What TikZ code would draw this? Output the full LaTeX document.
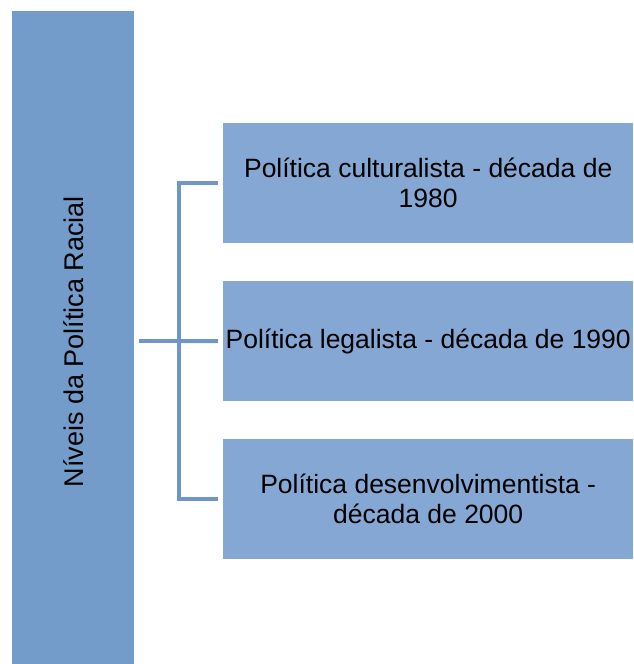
\documentclass[tikz,border=0pt]{standalone}
\usepackage{fontspec}
\setmainfont{Liberation Sans}
\definecolor{barc}{RGB}{115,156,203}
\definecolor{boxc}{RGB}{132,167,211}
\definecolor{linec}{RGB}{112,149,200}
\begin{document}
\begin{tikzpicture}[x=1pt,y=-1pt,
  bar/.style={fill=barc,draw=none,minimum width=122pt,minimum height=653pt,inner sep=0pt},
  lvl/.style={fill=boxc,draw=none,minimum width=410pt,minimum height=120pt,inner sep=0pt,align=center,font=\fontsize{26.5}{30}\selectfont},
  conn/.style={draw=linec,line width=4pt}]
\useasboundingbox (0,0) rectangle (633,664);
\node[bar,anchor=north west] (bar) at (12,11) {};
\node[rotate=90,font=\fontsize{27}{30}\selectfont] (lbl) at ([yshift=-4pt]bar.center) {Níveis da Política Racial};
\node[lvl,anchor=north west] (b1) at (223,123) {Política culturalista - década de\\1980};
\node[lvl,anchor=north west] (b2) at (223,281) {Política legalista - década de 1990};
\node[lvl,anchor=north west] (b3) at (223,439) {Política desenvolvimentista -\\década de 2000};
\coordinate (s) at (139,341);
\coordinate (j) at (179,341);
\draw[conn] (s) -- (j);
\draw[conn] (b1.west) ++(-5,0) -| (j) |- ([xshift=-5pt]b3.west);
\draw[conn] (j) -- ([xshift=-5pt]b2.west);
\end{tikzpicture}
\end{document}
